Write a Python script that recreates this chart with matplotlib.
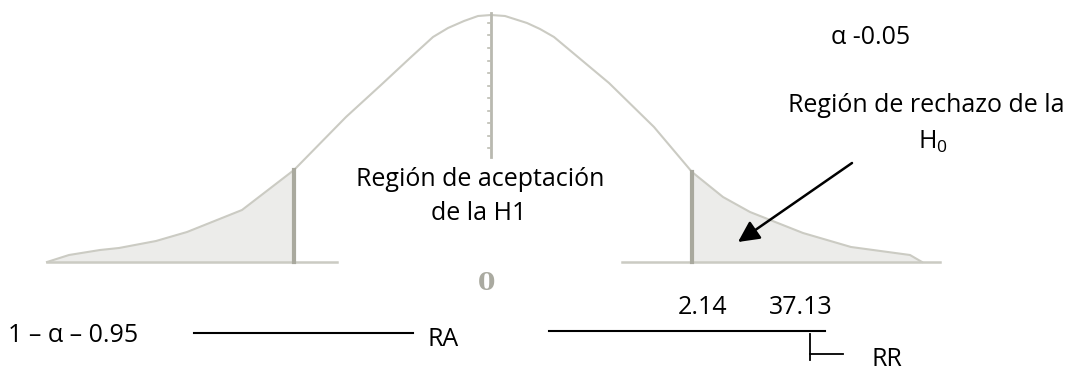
"""
Diagrama de contraste de hipótesis: curva de campana con regiones de
aceptación (RA) y rechazo (RR). Coordenadas en píxeles de la imagen.
"""
import numpy as np
import matplotlib.pyplot as plt

curve_x = [47, 69, 100, 119, 156, 187, 242, 294, 346, 381, 410, 433, 448,
           464, 478, 491, 505, 527, 540, 554, 609, 654, 692, 723, 750, 803,
           851, 910, 922]
curve_y = [262, 255, 250, 248, 241, 232, 210, 170, 117, 85, 58, 37, 28,
           21, 16, 15, 16, 23, 29, 37, 83, 127, 172, 197, 212, 233,
           247, 255, 262]

baseline_y = 262
left_base = [47, 337]
right_base = [622, 940]
crit_left = 294
crit_right = 692
center_x = 491
center_top, center_bottom = 13, 157
center_ticks = [23, 35, 48, 61, 73, 86, 98, 111, 123, 136, 148]

# ---- textos ----
alpha_label = "α -0.05"
rechazo_label = "Región de rechazo de la"
h0_label = "H$_0$"
acept_label = ["Región de aceptación", "de la H1"]
conf_label = "1 – α – 0.95"
crit_values = ["2.14", "37.13"]

curve_col = "#cbcbc3"
fill_col = "#ececea"
crit_col = "#a9a99e"

plt.rcParams["font.family"] = ["Open Sans", "DejaVu Sans"]
plt.rcParams["mathtext.fontset"] = "custom"
plt.rcParams["mathtext.rm"] = "Open Sans"
fig = plt.figure(figsize=(10.68, 3.72), dpi=100)
ax = fig.add_axes([0, 0, 1, 1])
ax.set_xlim(0, 1068)
ax.set_ylim(372, 0)
ax.axis("off")

cx = np.array(curve_x, dtype=float)
cy = np.array(curve_y, dtype=float)

# colas sombreadas
yl = np.interp(crit_left, cx, cy)
m = cx < crit_left
px = np.r_[cx[m], crit_left, crit_left, cx[m][0]]
py = np.r_[cy[m], yl, baseline_y, baseline_y]
ax.fill(px, py, color=fill_col, lw=0)

yr = np.interp(crit_right, cx, cy)
m = cx > crit_right
px = np.r_[crit_right, cx[m], crit_right]
py = np.r_[yr, cy[m], baseline_y]
ax.fill(px, py, color=fill_col, lw=0)

# curva y ejes base
ax.plot(cx, cy, color=curve_col, lw=1.5, solid_joinstyle="round")
ax.plot(left_base, [baseline_y, baseline_y], color=curve_col, lw=1.8)
ax.plot(right_base, [baseline_y, baseline_y], color=curve_col, lw=1.8)

# líneas críticas
ax.plot([crit_left, crit_left], [yl, baseline_y], color=crit_col, lw=3)
ax.plot([crit_right, crit_right], [yr, baseline_y], color=crit_col, lw=3)

# línea central con marcas
ax.plot([center_x, center_x], [center_top, center_bottom], color="#b9b9b0", lw=2)
for t in center_ticks:
    ax.plot([center_x - 3.5, center_x], [t, t], color="#bdbdb4", lw=1.2)

ax.text(center_x - 4, 283, "0", ha="center", va="center", fontsize=18,
        fontweight="bold", color="#aaaaa0", family="DejaVu Serif")

# textos superiores
fs = 18
ax.text(871, 37, alpha_label, ha="center", va="center", fontsize=fs)
ax.text(1065, 105, rechazo_label, ha="right", va="center", fontsize=fs)
ax.text(933, 142, h0_label, ha="center", va="center", fontsize=fs)
ax.text(480, 180, acept_label[0], ha="center", va="center", fontsize=fs)
ax.text(479, 213, acept_label[1], ha="center", va="center", fontsize=fs)

# flecha hacia la región de rechazo
ax.annotate("", xy=(738, 242), xytext=(852, 163),
            arrowprops=dict(arrowstyle="-|>", color="black", lw=1.8,
                            mutation_scale=32, shrinkA=0, shrinkB=0))

# fila inferior: RA / RR
ax.text(8, 336, conf_label, ha="left", va="center", fontsize=fs)
ax.plot([194, 413], [333, 333], color="black", lw=1.5)
ax.text(428, 339, "RA", ha="left", va="center", fontsize=fs)

ax.plot([549, 825], [331, 331], color="black", lw=1.5)
ax.text(703, 307, crit_values[0], ha="center", va="center", fontsize=fs)
ax.text(801, 307, crit_values[1], ha="center", va="center", fontsize=fs)
ax.plot([810, 810], [334, 360], color="black", lw=1.3)
ax.plot([810, 843], [354, 354], color="black", lw=1.3)
ax.text(872, 366, "RR", ha="left", va="baseline", fontsize=fs)

fig.savefig("out.png", dpi=100)
